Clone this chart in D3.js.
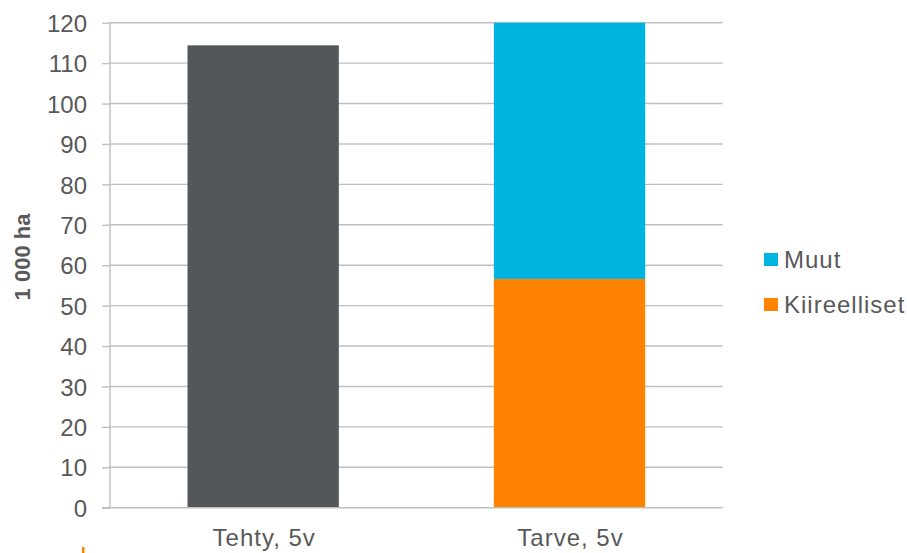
<!DOCTYPE html>
<html>
<head>
<meta charset="utf-8">
<script src="https://cdn.jsdelivr.net/npm/d3@7"></script>
<style>
  html, body { margin: 0; padding: 0; background: #fff; }
  svg { display: block; font-family: "Liberation Sans", Arial, sans-serif; }
</style>
</head>
<body>
<svg id="chart" width="907" height="553"></svg>
<script>
const categories = ["Tehty, 5v", "Tarve, 5v"];
const seriesNames = ["Tehty", "Kiireelliset", "Muut"];
const tehty = [114.4, 0];
const kiireelliset = [0, 56.6];
const muut = [0, 63.4];
const yTicks = [0, 10, 20, 30, 40, 50, 60, 70, 80, 90, 100, 110, 120];
const legendItems = ["Muut", "Kiireelliset"];
const colors = { "Tehty": "#53575A", "Kiireelliset": "#FF8200", "Muut": "#00B4E1" };

(function () {
const svg = d3.select("#chart");
const pLeft = 110, pRight = 722.7, pTop = 22.7, pBottom = 507.7;

const x = d3.scaleBand().domain(categories).range([pLeft, pRight]).paddingInner(0).paddingOuter(0);
const y = d3.scaleLinear().domain([0, 120]).range([pBottom, pTop]).clamp(true);

const textColor = "#595959";
const gridColor = "#BFBFBF";

// gridlines
svg.append("g").selectAll("line").data(yTicks.filter(d => d > 0)).join("line")
  .attr("x1", pLeft).attr("x2", pRight)
  .attr("y1", d => y(d)).attr("y2", d => y(d))
  .attr("stroke", gridColor).attr("stroke-width", 1.4);

// bars
const rows = categories.map((c, i) => ({ cat: c, Tehty: tehty[i], Kiireelliset: kiireelliset[i], Muut: muut[i] }));
const stack = d3.stack().keys(seriesNames)(rows);
const barW = x.bandwidth() * 0.494;
svg.append("g").selectAll("g").data(stack).join("g")
  .attr("fill", d => colors[d.key])
  .selectAll("rect").data(d => d.filter(p => p[1] - p[0] > 0)).join("rect")
  .attr("x", d => x(d.data.cat) + (x.bandwidth() - barW) / 2)
  .attr("width", barW)
  .attr("y", d => y(d[1]))
  .attr("height", d => y(d[0]) - y(d[1]));

// y axis
const yAxis = d3.axisLeft(y).tickValues(yTicks).tickSize(8).tickPadding(15).tickFormat(d3.format("d"));
const gy = svg.append("g").attr("transform", `translate(${pLeft},0)`).call(yAxis);
gy.select(".domain").attr("stroke", gridColor).attr("stroke-width", 1.4).attr("d", `M0,${pTop}V${pBottom}`);
gy.selectAll(".tick line").attr("stroke", gridColor).attr("stroke-width", 1.4);
gy.selectAll(".tick text").attr("fill", textColor).style("font-size", "24px")
  .style("font-family", "'Liberation Sans', Arial, sans-serif").attr("dy", "0.36em");

// bottom baseline
svg.append("line").attr("x1", pLeft - 8).attr("x2", pRight)
  .attr("y1", pBottom).attr("y2", pBottom).attr("stroke", gridColor).attr("stroke-width", 1.4);

// x labels
const xAxis = d3.axisBottom(x).tickSize(0).tickPadding(0);
const gx = svg.append("g").attr("transform", `translate(0,${pBottom})`).call(xAxis);
gx.select(".domain").remove();
gx.selectAll(".tick text").attr("fill", textColor).style("font-size", "24px")
  .style("letter-spacing", "1px")
  .style("font-family", "'Liberation Sans', Arial, sans-serif").attr("dy", "1.6em").attr("y", 0)
  .attr("dx", "1");

// y title
svg.append("text")
  .attr("transform", "translate(30,257) rotate(-90)")
  .attr("text-anchor", "middle")
  .attr("fill", textColor)
  .style("font-size", "22px").style("font-weight", "bold")
  .text("1 000 ha");

// legend
const lg = svg.append("g").selectAll("g").data(legendItems).join("g")
  .attr("transform", (d, i) => `translate(764,${253 + i * 45})`);
lg.append("rect").attr("width", 14).attr("height", 13).attr("fill", d => colors[d]);
lg.append("text").attr("x", 20).attr("y", 15).attr("fill", textColor)
  .style("font-size", "24px").style("letter-spacing", "1px").text(d => d);

// small orange artifact at bottom-left
svg.append("rect").attr("x", 82).attr("y", 547).attr("width", 2.5).attr("height", 6).attr("fill", "#FF8200");
})();
</script>
</body>
</html>
